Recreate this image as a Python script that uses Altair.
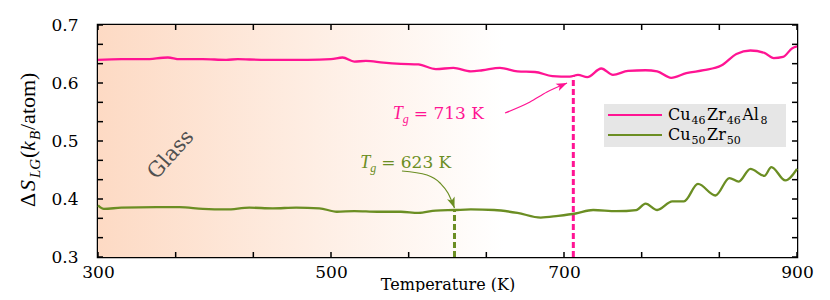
import altair as alt
import pandas as pd

# ---------------- data ----------------
series_names = ["Cu46Zr46Al8", "Cu50Zr50"]
series_parts = [[("Cu", 0), ("46", 1), ("Zr", 0), ("46", 1), ("Al", 0), ("8", 1)],
                [("Cu", 0), ("50", 1), ("Zr", 0), ("50", 1)]]
series_colors = ["#ff1493", "#6b8e23"]

T_pink = [300, 320, 340, 360, 370, 390, 410, 420, 440, 460, 480, 500, 510, 520, 530,
          545, 560, 575, 590, 605, 620, 630, 645, 660, 675, 690, 705, 712, 720, 732,
          742, 755, 770, 780, 792, 805, 820, 835, 848, 860, 872, 880, 888, 896, 900]
S_pink = [0.640, 0.641, 0.641, 0.644, 0.641, 0.641, 0.640, 0.641, 0.640, 0.640, 0.640,
          0.641, 0.644, 0.637, 0.638, 0.635, 0.633, 0.632, 0.624, 0.626, 0.620, 0.622,
          0.626, 0.620, 0.619, 0.612, 0.611, 0.614, 0.610, 0.625, 0.614, 0.621, 0.622,
          0.620, 0.609, 0.617, 0.622, 0.630, 0.650, 0.656, 0.652, 0.643, 0.645, 0.660, 0.663]

T_green = [300, 305, 320, 350, 370, 390, 410, 430, 450, 470, 490, 505, 520, 540, 560,
           575, 590, 606, 620, 640, 660, 680, 695, 710, 725, 745, 762, 770, 780, 793,
           803, 815, 830, 842, 850, 860, 872, 878, 890, 900]
S_green = [0.389, 0.383, 0.385, 0.386, 0.386, 0.383, 0.382, 0.385, 0.384, 0.385, 0.384,
           0.378, 0.379, 0.378, 0.378, 0.376, 0.380, 0.381, 0.382, 0.381, 0.376, 0.368,
           0.371, 0.375, 0.381, 0.379, 0.381, 0.392, 0.381, 0.396, 0.396, 0.426, 0.406,
           0.436, 0.430, 0.452, 0.440, 0.455, 0.432, 0.452]

x_major = [300, 500, 700, 900]
y_major = [0.3, 0.4, 0.5, 0.6, 0.7]

# glass transition markers (position on the plot, value in label)
Tg_pos = [708, 606]
Tg_top = [0.612, 0.381]
Tg_text = ["= 713 K", "= 623 K"]

# curved annotation arrows (T, S)
arrow_pink_T = [649.4, 670.8, 685.4, 702.6]
arrow_pink_S = [0.5483, 0.5672, 0.5845, 0.600]
arrow_green_T = [560.9, 582.4, 593.6, 600.4, 606.0]
arrow_green_S = [0.4483, 0.4414, 0.4276, 0.4103, 0.3845]

XMIN, XMAX, YMIN, YMAX = 300, 900, 0.3, 0.7
W, H = 699, 232
SERIF = "'DejaVu Serif', 'Liberation Serif', serif"
NARROW = "'Liberation Serif', 'DejaVu Serif', serif"

xs = alt.Scale(domain=[XMIN, XMAX], nice=False, zero=False)
ys = alt.Scale(domain=[YMIN, YMAX], nice=False, zero=False)
one = pd.DataFrame({"a": [0]})


def px_T(p):  # pixel offset inside plot -> temperature
    return XMIN + p * (XMAX - XMIN) / W


def px_S(p):  # pixel offset from plot top -> value
    return YMAX - p * (YMAX - YMIN) / H


# ---------------- background gradient ----------------
bg = alt.Chart(one).mark_rect(
    color=alt.Gradient(
        gradient="linear",
        stops=[alt.GradientStop(color="#fddac4", offset=0),
               alt.GradientStop(color="#ffffff", offset=0.58)],
        x1=0, x2=1, y1=0, y2=0)
).encode(x=alt.datum(XMIN, scale=xs), x2=alt.datum(XMAX),
         y=alt.datum(YMIN, scale=ys), y2=alt.datum(YMAX))

# ---------------- lines ----------------
df = pd.concat([
    pd.DataFrame({"T": T_pink, "S": S_pink, "series": series_names[0]}),
    pd.DataFrame({"T": T_green, "S": S_green, "series": series_names[1]}),
])

lines = alt.Chart(df).mark_line(strokeWidth=2.3, interpolate="monotone").encode(
    x=alt.X("T:Q", scale=xs,
            axis=alt.Axis(values=x_major, tickSize=0, domain=False, grid=False,
                          labelFont=SERIF, labelFontSize=17, labelColor="black",
                          labelPadding=7, labelFlush=False,
                          title="Temperature (K)", titleFont=SERIF, titleFontSize=16,
                          titleFontWeight="normal", titleColor="black",
                          titleBaseline="alphabetic", titleY=32)),
    y=alt.Y("S:Q", scale=ys,
            axis=alt.Axis(values=y_major, format=".1f", tickSize=0, domain=False, grid=False,
                          labelFont=SERIF, labelFontSize=17, labelColor="black",
                          labelPadding=20, labelFlush=False, title=None)),
    color=alt.Color("series:N", scale=alt.Scale(domain=series_names, range=series_colors),
                    legend=None),
)

# ---------------- inward ticks ----------------
minor_x = [XMIN + k * (XMAX - XMIN) / 9 for k in range(10)]
minor_y = [YMIN + k * (YMAX - YMIN) / 12 for k in range(13)]
ly = 5 * (YMAX - YMIN) / H
lx = 5 * (XMAX - XMIN) / W
rows = []
for t in minor_x:
    rows.append({"x": t, "x2": t, "y": YMIN, "y2": YMIN + ly})
    rows.append({"x": t, "x2": t, "y": YMAX, "y2": YMAX - ly})
for v in minor_y:
    rows.append({"x": XMIN, "x2": XMIN + lx, "y": v, "y2": v})
    rows.append({"x": XMAX, "x2": XMAX - lx, "y": v, "y2": v})
ticks = alt.Chart(pd.DataFrame(rows)).mark_rule(color="black", strokeWidth=1.5).encode(
    x=alt.X("x:Q", scale=xs), x2="x2:Q", y=alt.Y("y:Q", scale=ys), y2="y2:Q")

# ---------------- Tg dashed lines ----------------
tg_layers = []
for i in range(2):
    tg_layers.append(alt.Chart(one).mark_rule(
        strokeWidth=3, strokeDash=[6, 3], color=series_colors[i]).encode(
        x=alt.datum(Tg_pos[i], scale=xs), y=alt.datum(YMIN, scale=ys), y2=alt.datum(Tg_top[i])))

# ---------------- arrows ----------------
ap = alt.Chart(pd.DataFrame({"T": arrow_pink_T, "S": arrow_pink_S, "o": range(4)})).mark_line(
    color=series_colors[0], strokeWidth=1.2, interpolate="monotone").encode(
    x=alt.X("T:Q", scale=xs), y=alt.Y("S:Q", scale=ys), order="o:Q")
ag = alt.Chart(pd.DataFrame({"T": arrow_green_T, "S": arrow_green_S, "o": range(5)})).mark_line(
    color=series_colors[1], strokeWidth=1.2, interpolate="monotone").encode(
    x=alt.X("T:Q", scale=xs), y=alt.Y("S:Q", scale=ys), order="o:Q")
head = "M0,0 L-0.45,1.2 L0,0.9 L0.45,1.2 Z"
hp = alt.Chart(one).mark_point(
    shape=head, filled=True, size=320, angle=66, color=series_colors[0], opacity=1,
    strokeWidth=0).encode(
    x=alt.datum(arrow_pink_T[-1], scale=xs), y=alt.datum(arrow_pink_S[-1], scale=ys))
hg = alt.Chart(one).mark_point(
    shape=head, filled=True, size=320, angle=160, color=series_colors[1], opacity=1,
    strokeWidth=0).encode(
    x=alt.datum(arrow_green_T[-1], scale=xs), y=alt.datum(arrow_green_S[-1], scale=ys))


# ---------------- Tg labels ----------------
def tg_label(T0, S0, color, rest):
    base = dict(color=color, baseline="alphabetic", align="left")
    tt = alt.Chart(one).mark_text(
        text="T", font=NARROW, fontStyle="italic", fontSize=18, **base).encode(
        x=alt.datum(T0, scale=xs), y=alt.datum(S0, scale=ys))
    tg = alt.Chart(one).mark_text(
        text="g", font=NARROW, fontStyle="italic", fontSize=12, dx=10, dy=4, **base).encode(
        x=alt.datum(T0, scale=xs), y=alt.datum(S0, scale=ys))
    tr = alt.Chart(one).mark_text(
        text=rest, font=SERIF, fontSize=17, dx=21, **base).encode(
        x=alt.datum(T0, scale=xs), y=alt.datum(S0, scale=ys))
    return tt + tg + tr


lab_pink = tg_label(553, 0.538, series_colors[0], Tg_text[0])
lab_green = tg_label(525, 0.4534, series_colors[1], Tg_text[1])

# ---------------- Glass ----------------
glass = alt.Chart(one).mark_text(
    text="Glass", font=SERIF, fontSize=21, color="#505050", angle=312,
    align="center", baseline="middle").encode(
    x=alt.datum(362.7, scale=xs), y=alt.datum(0.476, scale=ys))

# ---------------- legend (drawn by hand, with subscripts) ----------------
leg_box = alt.Chart(one).mark_rect(color="#e6e6e6").encode(
    x=alt.datum(px_T(506), scale=xs), x2=alt.datum(px_T(688)),
    y=alt.datum(px_S(79), scale=ys), y2=alt.datum(px_S(122)))
adv = {"C": 0.733, "u": 0.644, "Z": 0.666, "r": 0.478, "A": 0.722, "l": 0.320}
legend_layers = [leg_box]
for i, parts in enumerate(series_parts):
    row_y = 90 + 20 * i
    legend_layers.append(alt.Chart(one).mark_rule(color=series_colors[i], strokeWidth=2).encode(
        x=alt.datum(px_T(510), scale=xs), x2=alt.datum(px_T(564)),
        y=alt.datum(px_S(row_y), scale=ys)))
    off = 0.0
    for txt, sub in parts:
        size = 11 if sub else 16
        legend_layers.append(alt.Chart(one).mark_text(
            text=txt, font=SERIF, fontSize=size, color="black", align="left",
            baseline="alphabetic", dx=off, dy=4 if sub else 0).encode(
            x=alt.datum(px_T(570), scale=xs), y=alt.datum(px_S(row_y + 5), scale=ys)))
        w = sum(adv.get(ch, 0.636) for ch in txt) * size
        off += w + 1.5

# ---------------- y title built from pieces ----------------
ypieces = [
    ("Δ", "normal", 22, -63, 182),
    ("S", "italic", 22, -63, 166),
    ("LG", "italic", 15, -58, 153),
    ("(", "normal", 22, -63, 133),
    ("k", "italic", 22, -63, 126),
    ("B", "italic", 15, -58, 115),
    ("/atom)", "normal", 22, -63, 105),
]
ytitle = None
for txt, style, size, px, py in ypieces:
    c = alt.Chart(one).mark_text(
        text=txt, font=NARROW, fontStyle=style, fontSize=size, color="black",
        angle=270, align="left", baseline="alphabetic").encode(
        x=alt.value(px), y=alt.value(py))
    ytitle = c if ytitle is None else ytitle + c

chart = alt.layer(bg, *tg_layers, lines, ticks, ap, ag, hp, hg, lab_pink, lab_green, glass,
                  *legend_layers, ytitle
).properties(
    width=W, height=H,
    padding={"left": 90, "top": 17, "right": 25, "bottom": 35},
    autosize=alt.AutoSizeParams(type="none"),
).configure_view(stroke="black", strokeWidth=2.5)

chart.save("out.html", embed_options={"renderer": "svg", "actions": False})
